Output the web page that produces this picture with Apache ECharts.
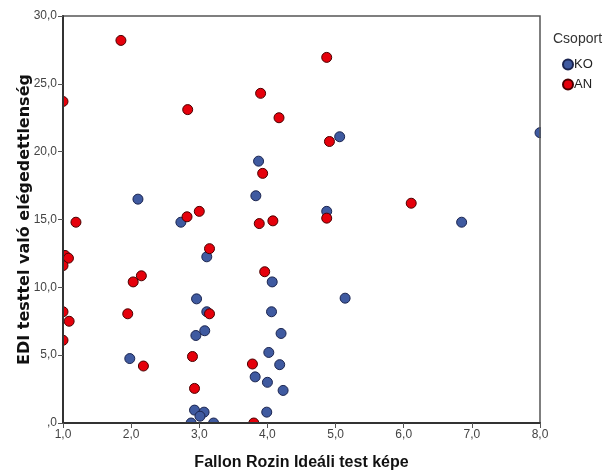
<!DOCTYPE html>
<html>
<head>
<meta charset="utf-8">
<script src="https://cdn.jsdelivr.net/npm/echarts@6/dist/echarts.min.js"></script>
<style>
  html, body { margin: 0; padding: 0; background: #fff; }
  #main { width: 603px; height: 471px; }
</style>
</head>
<body>
<div id="main"></div>
<script>
// Fallon-Rozin ideal body image vs EDI body dissatisfaction
const groupNames = ["KO", "AN"];
const xTicks = [1, 2, 3, 4, 5, 6, 7, 8];
const yTicks = [0, 5, 10, 15, 20, 25, 30];

// [x, y] pairs
const koPoints = [
    [2.10, 16.5], [2.73, 14.8], [3.87, 19.3], [3.83, 16.75],
    [5.06, 21.1], [8.0, 21.4], [4.87, 15.6], [6.85, 14.8],
    [3.11, 12.25], [2.96, 9.15], [3.11, 8.2], [2.95, 6.45], [3.08, 6.8],
    [1.98, 4.75], [2.93, 0.95], [3.07, 0.8], [3.01, 0.5], [2.88, 0.0], [3.21, 0.0],
    [4.07, 10.4], [4.06, 8.2], [4.20, 6.6], [4.02, 5.2], [4.18, 4.3],
    [3.82, 3.4], [4.00, 3.0], [4.23, 2.4], [3.99, 0.8], [5.14, 9.2]
];
const anPoints = [
    [1.85, 28.2], [1.0, 23.7], [2.83, 23.1], [3.90, 24.3], [4.17, 22.5],
    [3.93, 18.4], [1.19, 14.8], [2.82, 15.2], [3.0, 15.6], [3.88, 14.7], [4.08, 14.9],
    [4.87, 26.95], [4.91, 20.75], [6.11, 16.2], [4.87, 15.1],
    [1.03, 12.35], [1.08, 12.15], [1.0, 11.6], [1.0, 8.2], [1.09, 7.5], [1.0, 6.1],
    [2.03, 10.4], [2.15, 10.85], [1.95, 8.05], [2.18, 4.2],
    [3.15, 12.85], [3.15, 8.05], [2.90, 4.9], [2.93, 2.55], [3.80, 0.0],
    [3.96, 11.15], [3.78, 4.35]
];

const groupStyles = {
    KO: { color: "#3f5aa0", borderColor: "#1b2550" },
    AN: { color: "#e5000b", borderColor: "#4a0000" }
};

function fmt(v) {
    return v === 0 ? ",0" : v.toFixed(1).replace(".", ",");
}

// plot box, used to mask the halves of markers that sit on the frame
const box = { left: 63, right: 63, top: 16, bottom: 48 };
const W = 603, H = 471;

const myChart = echarts.init(document.getElementById("main"));

myChart.setOption({
    backgroundColor: "#fff",
    animation: false,
    title: {
        text: "Csoport",
        left: 553,
        top: 32,
        padding: 0,
        z: 6,
        textStyle: { fontFamily: "Liberation Sans", fontSize: 14, fontWeight: "normal", color: "#333" }
    },
    legend: {
        orient: "vertical",
        left: 562,
        top: 58,
        padding: 0,
        z: 6,
        itemWidth: 10,
        itemHeight: 10,
        itemGap: 7,
        icon: "circle",
        textStyle: { fontFamily: "Liberation Sans", fontSize: 13, color: "#222", padding: [0, 0, 0, -4] },
        data: groupNames
    },
    graphic: [
        { type: "rect", z: 3, silent: true, shape: { x: 0, y: 0, width: box.left - 1, height: H }, style: { fill: "#fff" } },
        { type: "rect", z: 3, silent: true, shape: { x: 0, y: H - box.bottom + 1, width: W, height: box.bottom }, style: { fill: "#fff" } },
        { type: "rect", z: 3, silent: true, shape: { x: W - box.right + 1, y: 0, width: box.right, height: H }, style: { fill: "#fff" } },
        { type: "rect", z: 3, silent: true, shape: { x: 0, y: 0, width: W, height: box.top - 1 }, style: { fill: "#fff" } }
    ],
    grid: {
        left: box.left,
        right: box.right,
        top: box.top,
        bottom: box.bottom,
        containLabel: false,
        outerBoundsMode: "none",
        show: true,
        z: 4,
        borderColor: "#555",
        borderWidth: 1.5
    },
    xAxis: {
        type: "value",
        z: 5,
        min: xTicks[0],
        max: xTicks[xTicks.length - 1],
        interval: 1,
        name: "Fallon Rozin Ideáli test képe",
        nameLocation: "middle",
        nameGap: 32,
        nameMoveOverlap: false,
        nameTextStyle: { fontFamily: "Liberation Sans", fontSize: 16, fontWeight: "bold", color: "#111" },
        axisLine: { lineStyle: { color: "#333", width: 2 } },
        axisTick: { show: true, length: 5, lineStyle: { color: "#555" } },
        axisLabel: { formatter: fmt, fontFamily: "Liberation Sans", fontSize: 12, color: "#444", margin: 6 },
        splitLine: { show: false }
    },
    yAxis: {
        type: "value",
        z: 5,
        min: yTicks[0],
        max: yTicks[yTicks.length - 1],
        interval: 5,
        name: "EDI testtel való elégedettlenség",
        nameLocation: "middle",
        nameGap: 30,
        nameMoveOverlap: false,
        nameTextStyle: { fontFamily: "DejaVu Sans", fontSize: 16, fontWeight: "bold", color: "#111" },
        axisLine: { show: true, lineStyle: { color: "#333", width: 2 } },
        axisTick: { show: true, length: 5, lineStyle: { color: "#555" } },
        axisLabel: { formatter: fmt, fontFamily: "Liberation Sans", fontSize: 12, color: "#444", margin: 6 },
        splitLine: { show: false }
    },
    series: [
        {
            name: "KO",
            type: "scatter",
            symbol: "circle",
            symbolSize: 10,
            clip: true,
            itemStyle: { color: groupStyles.KO.color, borderColor: groupStyles.KO.borderColor, borderWidth: 1, opacity: 1 },
            data: koPoints
        },
        {
            name: "AN",
            type: "scatter",
            symbol: "circle",
            symbolSize: 10,
            clip: true,
            itemStyle: { color: groupStyles.AN.color, borderColor: groupStyles.AN.borderColor, borderWidth: 1, opacity: 1 },
            data: anPoints
        }
    ]
});
</script>
</body>
</html>
